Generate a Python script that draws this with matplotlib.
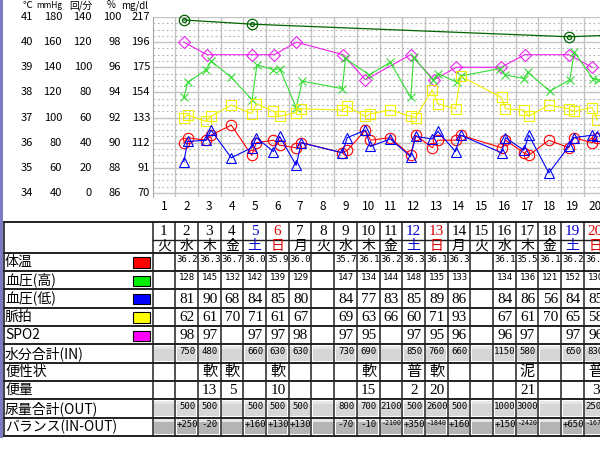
import numpy as np
import matplotlib
matplotlib.use("Agg")
import matplotlib.pyplot as plt
from matplotlib.patches import Rectangle
from matplotlib.transforms import blended_transform_factory

plt.rcParams['font.family'] = ['Noto Sans CJK JP', 'DejaVu Sans']

W, H = 600, 450

# ---- chart data: x = time in days (day d covers d-1 .. d) ----
vital_t = [1.38, 1.55, 2.36, 2.58, 3.47, 4.37, 4.57, 5.33, 5.6, 6.33, 6.55,
           8.36, 8.58, 9.38, 9.6, 10.47, 11.37, 11.59, 12.32, 12.57, 13.35,
           13.57, 15.38, 15.55, 16.36, 16.58, 17.46, 18.34, 18.56, 19.37, 19.59]
temp = [36.0, 36.2, 36.1, 36.3, 36.7, 35.5, 36.0, 36.1, 35.9, 35.8, 36.0,
        35.6, 35.7, 36.5, 36.1, 36.2, 35.5, 36.3, 35.8, 36.1, 36.1,
        36.3, 35.8, 36.1, 35.6, 35.5, 36.1, 35.8, 36.2, 36.0, 36.2]
bp_lo = [65, 81, 82, 90, 68, 76, 84, 73, 85, 62, 80,
         72, 84, 90, 77, 83, 69, 85, 83, 89, 73,
         86, 72, 84, 74, 86, 56, 77, 84, 86, 85]
pulse = [60, 62, 57, 61, 70, 63, 71, 65, 61, 64, 67,
         66, 69, 61, 63, 66, 61, 60, 82, 71, 67,
         93, 76, 67, 66, 61, 70, 67, 65, 68, 58]

bp_hi_t = [1.38, 1.55, 2.36, 2.58, 3.47, 4.39, 4.6, 5.33, 5.6, 6.33, 6.6,
           8.36, 8.5, 9.55, 10.47, 11.38, 11.5, 12.35, 12.57, 13.42, 13.57,
           15.3, 15.55, 16.36, 16.54, 17.5, 18.38, 18.58, 19.4, 19.62]
bp_hi = [116, 128, 138, 145, 132, 114, 142, 138, 139, 108, 129,
         123, 147, 134, 144, 116, 148, 130, 135, 128, 133,
         139, 134, 131, 136, 121, 130, 152, 131, 130]

spo2_t = [1.38, 2.41, 4.39, 5.37, 6.34, 8.4, 9.38, 11.37, 12.39, 13.39,
          15.36, 16.39, 18.34, 19.37]
spo2 = [98, 97, 97, 97, 98, 97, 95, 97, 95, 96, 96, 97, 97, 96]

sugar_t = [1.38, 4.39, 18.34, 20.5]
sugar = [214.5, 211, 200.5, 202]

# axis scales: (low, high) of each unit column
scale_temp = (34, 41)
scale_bp = (40, 180)
scale_pulse = (0, 140)
scale_spo2 = (86, 100)
scale_sugar = (70, 217)
unit_labels = ['℃', 'mmHg', '回/分', '%', 'mg/dl']

# ---- table data ----
days = list(range(1, 21))
weekdays = list('火水木金土日月火水木金土日月火水木金土日')

row_temp = ['', '36.2', '36.3', '36.7', '36.0', '35.9', '36.0', '', '35.7', '36.1',
            '36.2', '36.3', '36.1', '36.3', '', '36.1', '35.5', '36.1', '36.2', '36.2']
row_bp_hi = ['', '128', '145', '132', '142', '139', '129', '', '147', '134',
             '144', '148', '135', '133', '', '134', '136', '121', '152', '130']
row_bp_lo = ['', '81', '90', '68', '84', '85', '80', '', '84', '77',
             '83', '85', '89', '86', '', '84', '86', '56', '84', '85']
row_pulse = ['', '62', '61', '70', '71', '61', '67', '', '69', '63',
             '66', '60', '71', '93', '', '67', '61', '70', '65', '58']
row_spo2 = ['', '98', '97', '', '97', '97', '98', '', '97', '95',
            '', '97', '95', '96', '', '96', '97', '', '97', '96']
row_in = ['', '750', '480', '', '660', '630', '630', '', '730', '690',
          '', '850', '760', '660', '', '1150', '580', '', '650', '830']
row_stool = ['', '', '軟', '軟', '', '軟', '', '', '', '軟',
             '', '普', '軟', '', '', '', '泥', '', '', '普']
row_stool_amt = ['', '', '13', '5', '', '10', '', '', '', '15',
                 '', '2', '20', '', '', '', '21', '', '', '3']
row_out = ['', '500', '500', '', '500', '500', '500', '', '800', '700',
           '2100', '500', '2600', '500', '', '1000', '3000', '', '', '2500']
row_bal = ['', '+250', '-20', '', '+160', '+130', '+130', '', '-70', '-10',
           '-2100', '+350', '-1840', '+160', '', '+150', '-2420', '', '+650', '-1670']

C_TEMP, C_HI, C_LO, C_PULSE, C_SPO2, C_SUGAR = '#ff0000', '#33dd33', '#0000ff', '#f2f200', '#ee22ee', '#006400'

table_rows = [
    ('体温', '#ff0000', row_temp, 'small', None),
    ('血圧(高)', '#00ee00', row_bp_hi, 'small', None),
    ('血圧(低)', '#0000ff', row_bp_lo, 'big', None),
    ('脈拍', '#ffff00', row_pulse, 'big', None),
    ('SPO2', '#ff00ff', row_spo2, 'big', None),
    ('水分合計(IN)', None, row_in, 'small', '#d6d6d6'),
    ('便性状', None, row_stool, 'big', None),
    ('便量', None, row_stool_amt, 'big', None),
    ('尿量合計(OUT)', None, row_out, 'small', '#d6d6d6'),
    ('バランス(IN-OUT)', None, row_bal, 'small', '#b4b4b4'),
]


def to_axis(vals, scale):
    lo, hi = scale
    return 34 + (np.asarray(vals, dtype=float) - lo) / (hi - lo) * 7


fig = plt.figure(figsize=(6, 4.5), dpi=100)
fig.patch.set_facecolor('white')

# table layer in pixel coordinates
tax = fig.add_axes([0, 0, 1, 1])
tax.set_xlim(0, W)
tax.set_ylim(H, 0)
tax.axis('off')

COL0, COL_W = 152.5, 22.7
TBL_TOP, HDR_MID, HDR_BOT, ROW_H = 222.0, 240.0, 252.7, 18.33
TBL_LEFT = 4.0
tbl_bot = HDR_BOT + ROW_H * len(table_rows)

tax.add_patch(Rectangle((0, 0), 2.5, tbl_bot + 2, color='#7b7bc4', lw=0))

# shaded cells
for r, (label, sw, vals, kind, shade) in enumerate(table_rows):
    top = HDR_BOT + r * ROW_H
    if shade:
        for d in days:
            x0 = COL0 + (d - 1) * COL_W
            tax.add_patch(Rectangle((x0 + 1.5, top + 1.5), COL_W - 3, ROW_H - 3,
                                    facecolor=shade, edgecolor='none'))
            tax.add_patch(Rectangle((x0 + 1.5, top + 1.5), COL_W - 3, 3,
                                    facecolor='#e6e6e6', edgecolor='none'))

# grid lines
tax.plot([TBL_LEFT, W], [TBL_TOP, TBL_TOP], color='#202020', lw=1.4)
tax.plot([COL0, W], [HDR_MID, HDR_MID], color='#202020', lw=1.0)
for r in range(len(table_rows) + 1):
    y = HDR_BOT + r * ROW_H
    tax.plot([TBL_LEFT, W], [y, y], color='#202020', lw=1.4)
tax.plot([TBL_LEFT, TBL_LEFT], [TBL_TOP, tbl_bot], color='#202020', lw=1.2)
for k in range(len(days) + 1):
    x = COL0 + k * COL_W
    tax.plot([x, x], [TBL_TOP, tbl_bot], color='#202020', lw=1.1)

# header
for d, wd in zip(days, weekdays):
    cx = COL0 + (d - 0.5) * COL_W
    col = '#0000cc' if wd == '土' else ('#dd0000' if wd == '日' else 'black')
    tax.text(cx, (TBL_TOP + HDR_MID) / 2 + 0.5, str(d), ha='center', va='center',
             fontsize=11, color=col, family=['Liberation Serif', 'DejaVu Serif'])
    tax.text(cx, (HDR_MID + HDR_BOT) / 2, wd, ha='center', va='center',
             fontsize=10, color=col)

# rows
for r, (label, sw, vals, kind, shade) in enumerate(table_rows):
    top = HDR_BOT + r * ROW_H
    cy = top + ROW_H / 2
    tax.text(5, cy, label, ha='left', va='center', fontsize=10)
    if sw:
        tax.add_patch(Rectangle((132.5, top + 4.5), 17, 10.5, facecolor=sw,
                                edgecolor='black', lw=0.8))
    for d, s in zip(days, vals):
        if not s:
            continue
        cx = COL0 + (d - 0.5) * COL_W
        if kind == 'small':
            fs = 6.5 if len(s) <= 4 else 4.8
            tax.text(cx + 0.5, top + 2.2, s, ha='center', va='top', fontsize=fs,
                     family='DejaVu Sans Mono')
        else:
            tax.text(cx + 0.5, cy + 0.5, s, ha='center', va='center', fontsize=11,
                     family=['Liberation Serif', 'Noto Sans CJK JP'])

# ---- chart ----
x_max = (W - COL0) / COL_W
y_top_px, y_bot_px = 17.0, 197.0
px_per_deg = (193.0 - 17.0) / 7
ax = fig.add_axes([COL0 / W, 1 - y_bot_px / H, (W - COL0) / W, (y_bot_px - y_top_px) / H])
ax.set_xlim(0, x_max)
ax.set_ylim(41 - (y_bot_px - y_top_px) / px_per_deg, 41)
ax.set_facecolor('white')
ax.set_axisbelow(True)

ax.set_xticks(np.arange(1, 20))
ax.set_xticks(np.array(days) - 0.5, minor=True)
ax.set_xticklabels([])
ax.set_xticklabels([str(d) for d in days], minor=True, fontsize=8.5)
ax.set_yticks(np.arange(34, 42))
ax.set_yticks(np.arange(34, 41, 0.25), minor=True)
ax.tick_params(axis='both', which='both', length=0, labelleft=False, pad=2)
ax.xaxis.grid(True, which='major', color='#c4c4c4', lw=1.0)
ax.yaxis.grid(True, which='major', color='#c4c4c4', lw=1.0)
ax.yaxis.grid(True, which='minor', color='#b0b0b0', lw=0.8, linestyle=(0, (1.5, 2.5)))
for side in ['top', 'right', 'bottom']:
    ax.spines[side].set_visible(False)
ax.spines['left'].set_color('#a8a8a8')

ax.plot(sugar_t, to_axis(sugar, scale_sugar), color=C_SUGAR, lw=0.9, marker='o', ms=7.5,
        mfc='none', mew=0.9, markevery=[0, 1, 2], clip_on=False)
ax.plot(sugar_t[:3], to_axis(sugar[:3], scale_sugar), ls='none', marker='o', ms=3,
        mfc='none', mec=C_SUGAR, mew=0.9, clip_on=False)
ax.plot(spo2_t, to_axis(spo2, scale_spo2), color=C_SPO2, lw=0.8, marker='D', ms=6.5,
        mfc='none', mew=0.8, clip_on=False)
ax.plot(bp_hi_t, to_axis(bp_hi, scale_bp), color=C_HI, lw=0.8, marker='x', ms=5.5,
        mew=0.8, clip_on=False)
ax.plot(vital_t, to_axis(pulse, scale_pulse), color=C_PULSE, lw=0.8, marker='s', ms=6.5,
        mfc='none', mew=0.8, clip_on=False)
ax.plot(vital_t, to_axis(temp, scale_temp), color=C_TEMP, lw=0.8, marker='o', ms=7.5,
        mfc='none', mew=0.8, clip_on=False)
ax.plot(vital_t, to_axis(bp_lo, scale_bp), color=C_LO, lw=0.8, marker='^', ms=7.5,
        mfc='none', mew=0.8, clip_on=False)

# left scale columns
trans = blended_transform_factory(fig.transFigure, ax.transData)
col_right = [33, 62, 92, 121, 150]
scales = [scale_temp, scale_bp, scale_pulse, scale_spo2, scale_sugar]
levels = np.arange(34, 42)
for xr, sc in zip(col_right, scales):
    lo, hi = sc
    for lv in levels:
        v = lo + (lv - 34) / 7 * (hi - lo)
        ax.text(xr / W, lv, '%d' % round(v), transform=trans, ha='right', va='center',
                fontsize=8, clip_on=False)
unit_right = [32, 62, 92, 115, 148]
unit_sizes = [7, 6, 7, 7, 7]
for xr, u, fs in zip(unit_right, unit_labels, unit_sizes):
    fig.text(xr / W, 1 - 5.5 / H, u, ha='right', va='center', fontsize=fs)

fig.savefig('out.png', dpi=100, facecolor='white')
